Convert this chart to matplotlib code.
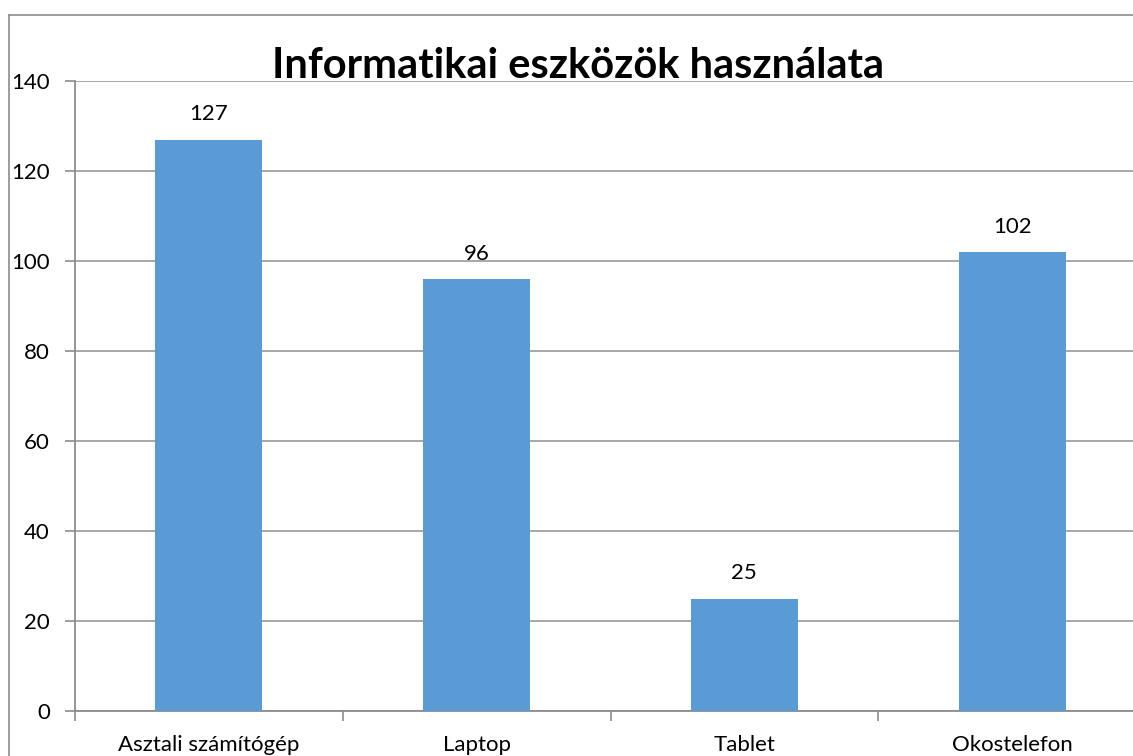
import numpy as np
import matplotlib
matplotlib.use("Agg")
import matplotlib.pyplot as plt
from matplotlib.lines import Line2D

# ---------------- 数据 ----------------
categories = ["Asztali számítógép", "Laptop", "Tablet", "Okostelefon"]
values = [127, 96, 25, 102]
y_ticks = [0, 20, 40, 60, 80, 100, 120, 140]
title = "Informatikai eszközök használata"

plt.rcParams["font.family"] = ["Lato", "DejaVu Sans"]

W, H, DPI = 1133, 756, 100
fig = plt.figure(figsize=(W / DPI, H / DPI), dpi=DPI)

# 外框（只露出左边和上边）
bx, by = 9 / W, (H - 15) / H
fig.add_artist(Line2D([bx, bx], [0, by], transform=fig.transFigure,
                      color="#8c8c8c", linewidth=1.2))
fig.add_artist(Line2D([bx, 1], [by, by], transform=fig.transFigure,
                      color="#8c8c8c", linewidth=1.2))

ax = fig.add_axes([75 / W, 45 / H, (1146 - 75) / W, (711 - 81) / H])

x = np.arange(len(categories))
ax.bar(x, values, width=0.4, color="#5b9bd5", zorder=3)

for xi, v in zip(x, values):
    ax.annotate(str(v), (xi, v), xytext=(0, 11), textcoords="offset points",
                ha="center", va="bottom", fontsize=16, color="black")

ax.set_ylim(0, 140)
ax.set_xlim(-0.5, len(categories) - 0.5)
ax.set_yticks(y_ticks)
ax.set_yticklabels([str(t) for t in y_ticks], fontsize=16)
ax.grid(axis="y", color="#a0a0a0", linewidth=1.3, zorder=0)

# x 轴刻度在类别之间，标签居中
ax.set_xticks(np.arange(len(categories) + 1) - 0.5)
ax.set_xticklabels([])
ax.set_xticks(x, minor=True)
ax.set_xticklabels(categories, minor=True, fontsize=16)
ax.tick_params(axis="x", which="minor", length=0, pad=17)
ax.tick_params(axis="x", which="major", length=7, color="#8c8c8c", width=1.2)
ax.tick_params(axis="y", length=7, color="#8c8c8c", width=1.2, pad=11)

for side in ("top", "right"):
    ax.spines[side].set_visible(False)
for side in ("left", "bottom"):
    ax.spines[side].set_color("#8c8c8c")
    ax.spines[side].set_linewidth(1.3)

fig.text(578 / W, (H - 78) / H, title, ha="center", va="baseline",
         fontsize=30, fontweight="bold", color="black")

fig.savefig("out.png", dpi=DPI)
